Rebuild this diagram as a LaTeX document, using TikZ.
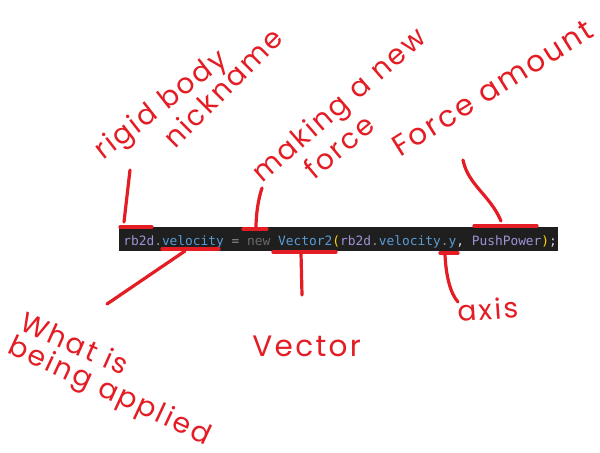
\documentclass[tikz,border=0pt]{standalone}
\usepackage{fontspec}
\newfontfamily\codefont{DejaVu Sans Mono}
\newfontfamily\handfont{Poppins}[LetterSpace=8]
\usetikzlibrary{calc}
\definecolor{inkred}{RGB}{228,28,36}
\definecolor{codebg}{RGB}{31,31,31}
\definecolor{cvar}{RGB}{160,145,214}
\definecolor{cprop}{RGB}{88,156,214}
\definecolor{cop}{RGB}{140,140,140}
\definecolor{ckey}{RGB}{105,105,105}
\definecolor{cbrace}{RGB}{255,215,0}
\definecolor{cpunct}{RGB}{212,212,212}

\begin{document}
\begin{tikzpicture}[x=0.25mm,y=-0.25mm,
    hand/.style={inkred,font=\handfont\fontsize{20}{22}\selectfont,inner sep=0pt,anchor=base west},
    lead/.style={inkred,line width=0.8mm,line cap=round},
    code/.style={font=\codefont\fontsize{9.15}{11}\selectfont,inner sep=0pt,anchor=base west}]
  \useasboundingbox[fill=white] (0,0) rectangle (600,452);
  % code line
  \fill[codebg] (119,227) rectangle (558,251);
  \node[code] (line) at (123,245) {\textcolor{cvar}{rb2d}\textcolor{cop}{.}\textcolor{cprop}{velocity}\textcolor{cop}{\ =\ }\textcolor{ckey}{new\ }\textcolor{cprop}{Vector2}\textcolor{cbrace}{(}\textcolor{cvar}{rb2d}\textcolor{cop}{.}\textcolor{cprop}{velocity}\textcolor{cop}{.}\textcolor{cprop}{y}\textcolor{cpunct}{,\ }\textcolor{cvar}{PushPower}\textcolor{cbrace}{)}\textcolor{cpunct}{;}};
  % labels above
  \node[hand,rotate=38] (rigid) at (103,161) {rigid body};
  \node[hand,rotate=45] (nick) at (175,150) {nickname};
  \node[hand,rotate=41] (making) at (262,184) {making a new};
  \node[hand,rotate=40] (force) at (314,181) {force};
  \node[hand,rotate=32,font=\handfont\fontsize{21}{23}\selectfont] (amount) at (400,158) {Force amount};
  % labels below
  \node[hand,rotate=-24] (what) at (18,329) {What is};
  \node[hand,rotate=-25] (being) at (6,352) {being applied};
  \node[hand,font=\handfont\fontsize{21}{23}\selectfont] (vector) at (252,356) {Vector};
  \node[hand,rotate=4] (axis) at (458,322) {axis};
  % leader ends
  \coordinate (rigidA) at (130,170);  \coordinate (rigidB) at (124,222);
  \coordinate (rigidL) at (120,227);  \coordinate (rigidR) at (152,227);
  \coordinate (newA) at (262,188);    \coordinate (newB) at (256,228);
  \coordinate (newL) at (243,229);    \coordinate (newR) at (267,229);
  \coordinate (amtA) at (463,160);    \coordinate (amtB) at (501,221);
  \coordinate (amtL) at (474,226);    \coordinate (amtR) at (537,226);
  \coordinate (velL) at (162,249);    \coordinate (velR) at (219,249);
  \coordinate (velA) at (185,251);    \coordinate (velB) at (107,304);
  \coordinate (vecL) at (273,252);    \coordinate (vecR) at (336,252);
  \coordinate (vecA) at (301,253);    \coordinate (vecB) at (302,295);
  \coordinate (yL) at (440,253);      \coordinate (yR) at (458,253);
  \coordinate (yA) at (445,255);      \coordinate (yB) at (458,302);
  % leaders
  \draw[lead] (rigidA) -- (rigidB);
  \draw[lead] (rigidL) -- (rigidR);
  \draw[lead] (newA) .. controls (258,200) and (256,215) .. (newB);
  \draw[lead] (newL) -- (newR);
  \draw[lead] (amtA) .. controls (468,185) and (490,195) .. (amtB);
  \draw[lead] (amtL) -- (amtR);
  \draw[lead] (velL) -- (velR);
  \draw[lead] (velA) -- (velB);
  \draw[lead] (vecL) -- (vecR);
  \draw[lead] (vecA) -- (vecB);
  \draw[lead] (yL) -- (yR);
  \draw[lead] (yA) .. controls (446,275) and (450,293) .. (yB);
\end{tikzpicture}
\end{document}
